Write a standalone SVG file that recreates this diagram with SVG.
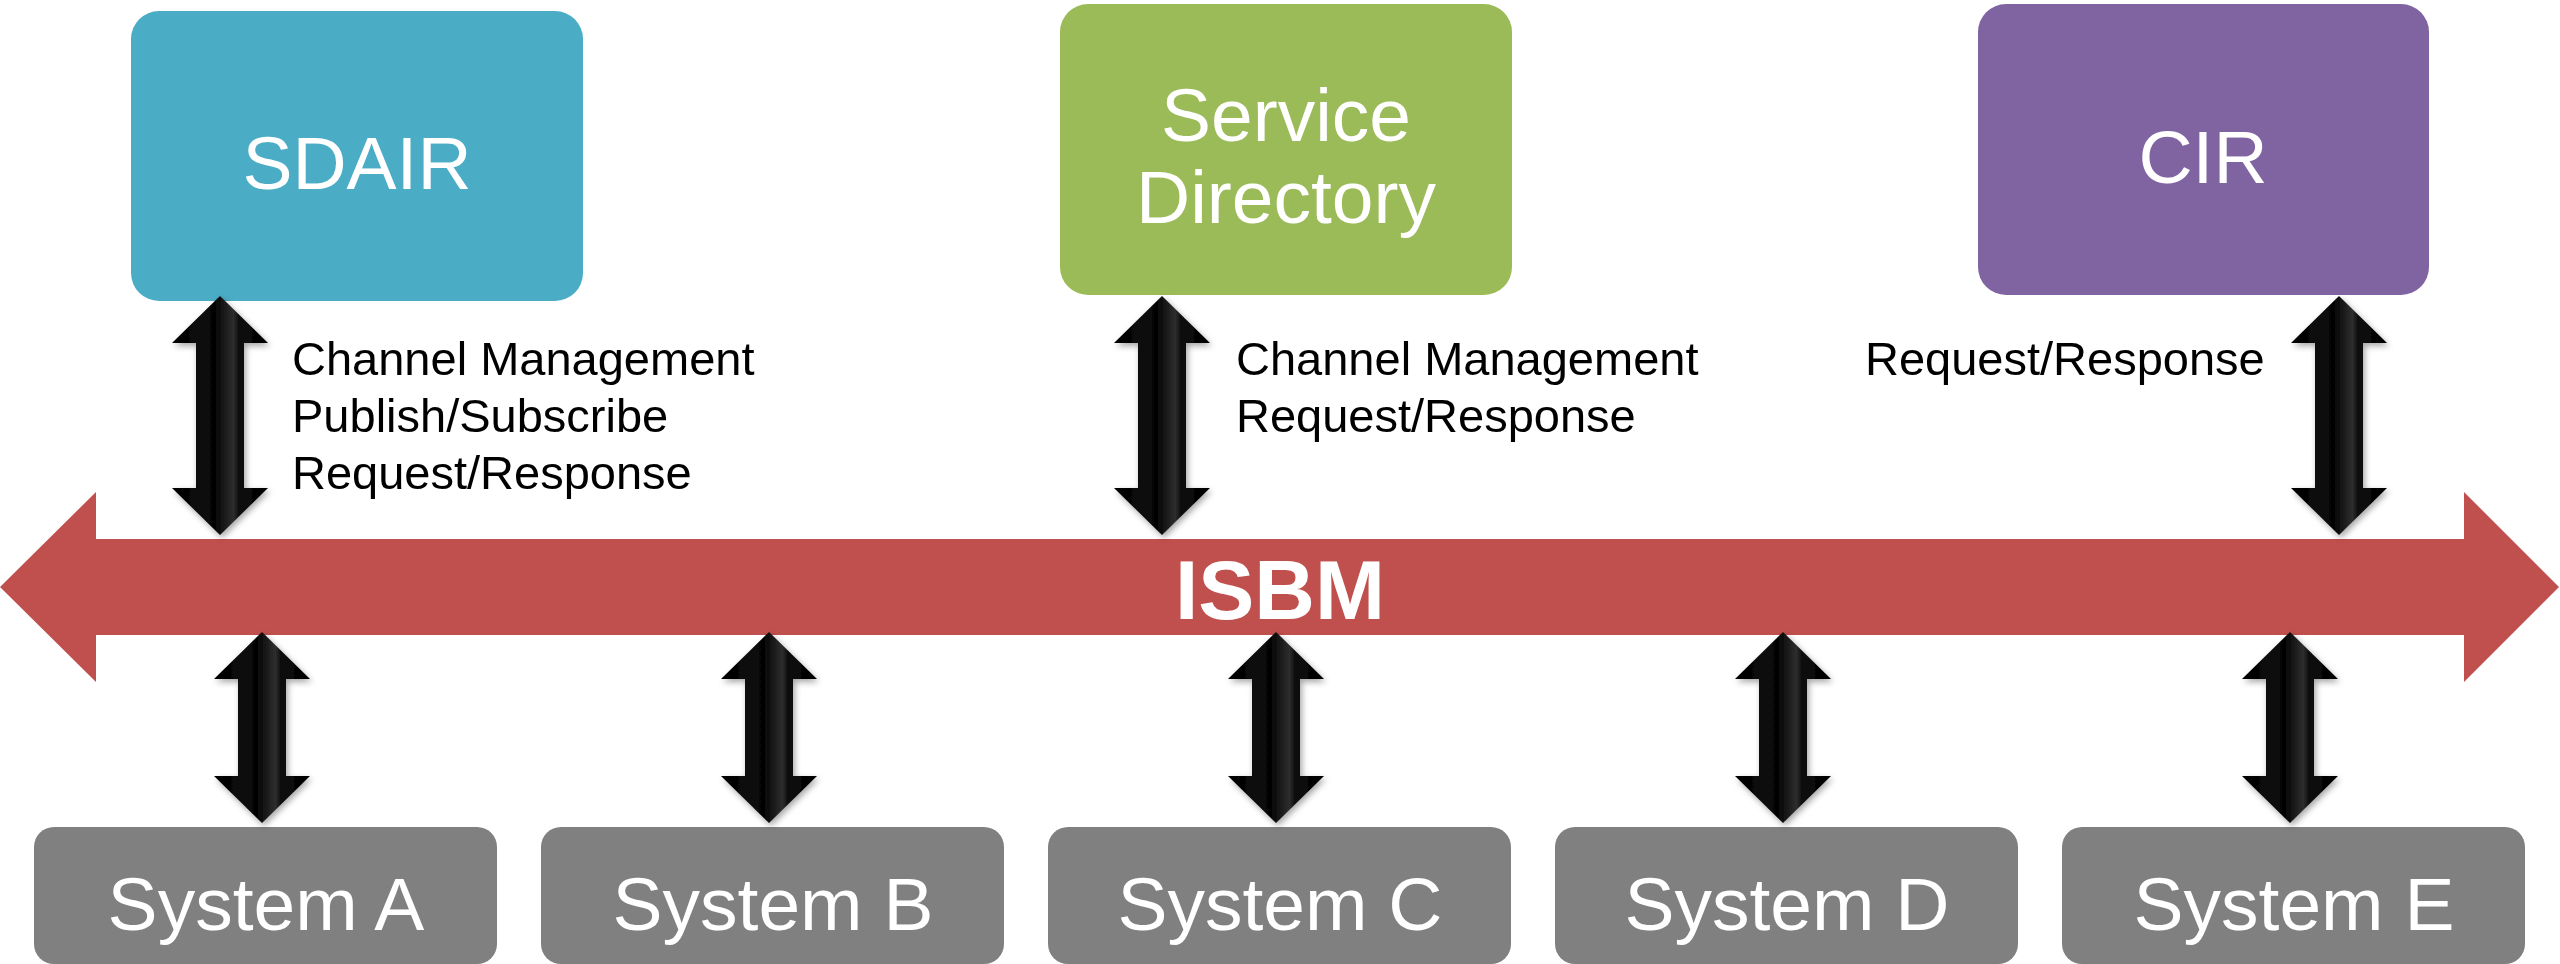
<svg xmlns="http://www.w3.org/2000/svg" xmlns:xlink="http://www.w3.org/1999/xlink" width="2560" height="964" viewBox="0 0 2560 964">
  <style>
    .node-label { font-family: "Liberation Sans", Arial, sans-serif; fill: #ffffff; text-anchor: middle; font-size: 75px; }
    .bus-label { font-family: "Liberation Sans", Arial, sans-serif; fill: #ffffff; text-anchor: middle; font-size: 84px; font-weight: bold; }
    .link-label { font-family: "Liberation Sans", Arial, sans-serif; fill: #000000; font-size: 47px; }
    .system { fill: #808080; }
  </style>
  <defs>
    <linearGradient id="bevel" x1="0" y1="0" x2="1" y2="0">
      <stop offset="0" stop-color="#000000"/>
      <stop offset="0.28" stop-color="#0a0a0a"/>
      <stop offset="0.45" stop-color="#050505"/>
      <stop offset="0.64" stop-color="#2e2e2e"/>
      <stop offset="0.7" stop-color="#0c0c0c"/>
      <stop offset="1" stop-color="#000000"/>
    </linearGradient>
    <filter id="shadow" x="-40%" y="-10%" width="180%" height="120%">
      <feDropShadow dx="2" dy="3" stdDeviation="3" flood-color="#000000" flood-opacity="0.35"/>
    </filter>
    <!-- double-headed connector, upper row (tip to tip 239) -->
    <path id="arrowLong" d="M0,0 L48,47 L24,47 L24,192 L48,192 L0,239 L-48,192 L-24,192 L-24,47 L-48,47 Z"/>
    <!-- double-headed connector, lower row (tip to tip 191) -->
    <path id="arrowShort" d="M0,0 L48,47 L24,47 L24,144 L48,144 L0,191 L-48,144 L-24,144 L-24,47 L-48,47 Z"/>
  </defs>

  <rect width="2560" height="964" fill="#ffffff"/>

  <!-- ISBM bus -->
  <g id="isbm">
    <path d="M0,587 L96,492 L96,539 L2464,539 L2464,492 L2559,587 L2464,682 L2464,635 L96,635 L96,682 Z" fill="#C0504D"/>
    <text class="bus-label" x="1280" y="619">ISBM</text>
  </g>

  <!-- service nodes -->
  <g id="sdair">
    <rect x="131" y="11" width="452" height="290" rx="28" fill="#4BACC6"/>
    <text class="node-label" x="357" y="189">SDAIR</text>
  </g>
  <g id="service-directory">
    <rect x="1060" y="4" width="452" height="291" rx="28" fill="#9BBB59"/>
    <text class="node-label" x="1286" y="141">Service</text>
    <text class="node-label" x="1286" y="223">Directory</text>
  </g>
  <g id="cir">
    <rect x="1978" y="4" width="451" height="291" rx="28" fill="#8064A2"/>
    <text class="node-label" x="2203" y="183">CIR</text>
  </g>

  <!-- connected systems -->
  <g id="system-a">
    <rect class="system" x="34" y="827" width="463" height="137" rx="20"/>
    <text class="node-label" x="266" y="930">System A</text>
  </g>
  <g id="system-b">
    <rect class="system" x="541" y="827" width="463" height="137" rx="20"/>
    <text class="node-label" x="773" y="930">System B</text>
  </g>
  <g id="system-c">
    <rect class="system" x="1048" y="827" width="463" height="137" rx="20"/>
    <text class="node-label" x="1280" y="930">System C</text>
  </g>
  <g id="system-d">
    <rect class="system" x="1555" y="827" width="463" height="137" rx="20"/>
    <text class="node-label" x="1787" y="930">System D</text>
  </g>
  <g id="system-e">
    <rect class="system" x="2062" y="827" width="463" height="137" rx="20"/>
    <text class="node-label" x="2294" y="930">System E</text>
  </g>

  <!-- connectors -->
  <g id="connectors" fill="url(#bevel)" filter="url(#shadow)">
    <use xlink:href="#arrowLong" x="220" y="296"/>
    <use xlink:href="#arrowLong" x="1162" y="296"/>
    <use xlink:href="#arrowLong" x="2339" y="296"/>
    <use xlink:href="#arrowShort" x="262" y="632"/>
    <use xlink:href="#arrowShort" x="769" y="632"/>
    <use xlink:href="#arrowShort" x="1276" y="632"/>
    <use xlink:href="#arrowShort" x="1783" y="632"/>
    <use xlink:href="#arrowShort" x="2290" y="632"/>
  </g>

  <!-- connector labels -->
  <g id="labels">
    <text class="link-label" x="292" y="375">Channel Management</text>
    <text class="link-label" x="292" y="432">Publish/Subscribe</text>
    <text class="link-label" x="292" y="489">Request/Response</text>
    <text class="link-label" x="1236" y="375">Channel Management</text>
    <text class="link-label" x="1236" y="432">Request/Response</text>
    <text class="link-label" x="1865" y="375">Request/Response</text>
  </g>
</svg>
